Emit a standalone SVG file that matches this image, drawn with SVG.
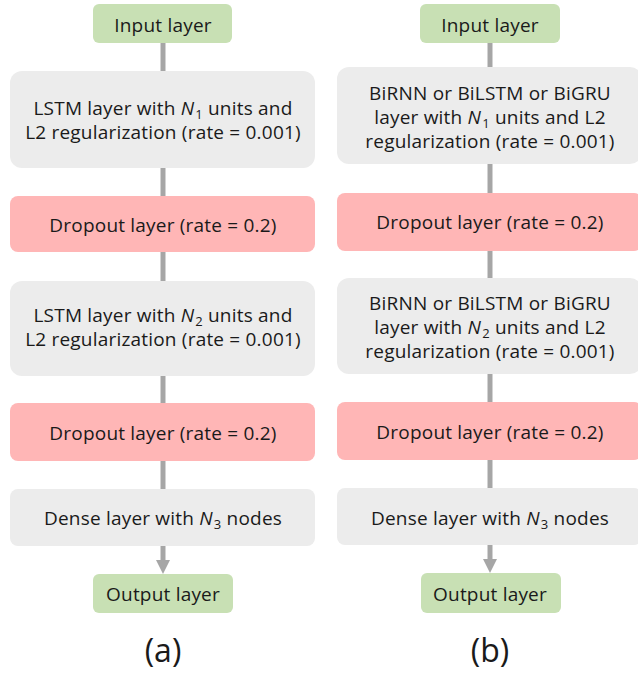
<svg xmlns="http://www.w3.org/2000/svg" width="638" height="677" viewBox="0 0 638 677">
<style>
text{font-family:"Open Sans","Noto Sans",sans-serif;font-size:19px;letter-spacing:0.2px;fill:#1a1a1a;text-anchor:middle}
.green{fill:#c8e0b4}
.pink{fill:#ffb6b6}
.gray{fill:#ececec}
.conn{stroke:#a6a6a6;stroke-width:5;fill:none}
.cap{font-size:32px;letter-spacing:0}
.it{font-style:italic}
.sub{font-size:13px}
</style>
<defs>
<marker id="arr" markerWidth="3" markerHeight="2.8" refX="0" refY="1.4" orient="auto" markerUnits="strokeWidth">
<path d="M0,0 L2.8,1.4 L0,2.8 Z" fill="#a6a6a6"/>
</marker>
</defs>
<g id="connectors">
<line class="conn" x1="163" y1="43" x2="163" y2="71"/>
<line class="conn" x1="163" y1="168" x2="163" y2="196"/>
<line class="conn" x1="163" y1="252" x2="163" y2="281"/>
<line class="conn" x1="163" y1="376" x2="163" y2="403"/>
<line class="conn" x1="163" y1="461" x2="163" y2="489"/>
<line class="conn" x1="163" y1="546" x2="163" y2="560" marker-end="url(#arr)"/>
<line class="conn" x1="490" y1="43" x2="490" y2="67"/>
<line class="conn" x1="490" y1="164" x2="490" y2="193"/>
<line class="conn" x1="490" y1="251" x2="490" y2="278"/>
<line class="conn" x1="490" y1="374" x2="490" y2="402"/>
<line class="conn" x1="490" y1="460" x2="490" y2="488"/>
<line class="conn" x1="490" y1="545" x2="490" y2="559" marker-end="url(#arr)"/>
</g>
<g id="a-input"><rect class="green" x="93" y="4" width="139" height="39" rx="6"/><text x="163" y="31.5">Input layer</text></g>
<g id="a-lstm1"><rect class="gray" x="10" y="71" width="305" height="97" rx="12"/>
<text x="163" y="115">LSTM layer with <tspan class="it">N</tspan><tspan class="sub" dx="1" baseline-shift="-4">1</tspan> units and</text>
<text x="163" y="139">L2 regularization (rate = 0.001)</text></g>
<g id="a-drop1"><rect class="pink" x="10" y="196" width="305" height="56" rx="8"/><text x="163" y="231.5">Dropout layer (rate = 0.2)</text></g>
<g id="a-lstm2"><rect class="gray" x="10" y="281" width="305" height="95" rx="12"/>
<text x="163" y="322">LSTM layer with <tspan class="it">N</tspan><tspan class="sub" dx="1" baseline-shift="-4">2</tspan> units and</text>
<text x="163" y="346">L2 regularization (rate = 0.001)</text></g>
<g id="a-drop2"><rect class="pink" x="10" y="403" width="305" height="58" rx="8"/><text x="163" y="439.5">Dropout layer (rate = 0.2)</text></g>
<g id="a-dense"><rect class="gray" x="10" y="489" width="305" height="57" rx="8"/>
<text x="163" y="524.5">Dense layer with <tspan class="it">N</tspan><tspan class="sub" dx="1" baseline-shift="-4">3</tspan> nodes</text></g>
<g id="a-output"><rect class="green" x="93" y="574" width="140" height="39" rx="6"/><text x="163" y="600.5">Output layer</text></g>
<text class="cap" x="163" y="662">(a)</text>

<g id="b-input"><rect class="green" x="420" y="4" width="140" height="39" rx="6"/><text x="490" y="31.5">Input layer</text></g>
<g id="b-rnn1"><rect class="gray" x="337" y="67" width="305" height="97" rx="12"/>
<text x="490" y="100">BiRNN or BiLSTM or BiGRU</text>
<text x="490" y="124">layer with <tspan class="it">N</tspan><tspan class="sub" dx="1" baseline-shift="-4">1</tspan> units and L2</text>
<text x="490" y="148">regularization (rate = 0.001)</text></g>
<g id="b-drop1"><rect class="pink" x="337" y="193" width="305" height="58" rx="8"/><text x="490" y="228.5">Dropout layer (rate = 0.2)</text></g>
<g id="b-rnn2"><rect class="gray" x="337" y="278" width="305" height="96" rx="12"/>
<text x="490" y="310">BiRNN or BiLSTM or BiGRU</text>
<text x="490" y="334">layer with <tspan class="it">N</tspan><tspan class="sub" dx="1" baseline-shift="-4">2</tspan> units and L2</text>
<text x="490" y="358">regularization (rate = 0.001)</text></g>
<g id="b-drop2"><rect class="pink" x="337" y="402" width="305" height="58" rx="8"/><text x="490" y="438.5">Dropout layer (rate = 0.2)</text></g>
<g id="b-dense"><rect class="gray" x="337" y="488" width="305" height="57" rx="8"/>
<text x="490" y="524.5">Dense layer with <tspan class="it">N</tspan><tspan class="sub" dx="1" baseline-shift="-4">3</tspan> nodes</text></g>
<g id="b-output"><rect class="green" x="421" y="573" width="140" height="40" rx="6"/><text x="490" y="600.5">Output layer</text></g>
<text class="cap" x="490" y="662">(b)</text>
</svg>
